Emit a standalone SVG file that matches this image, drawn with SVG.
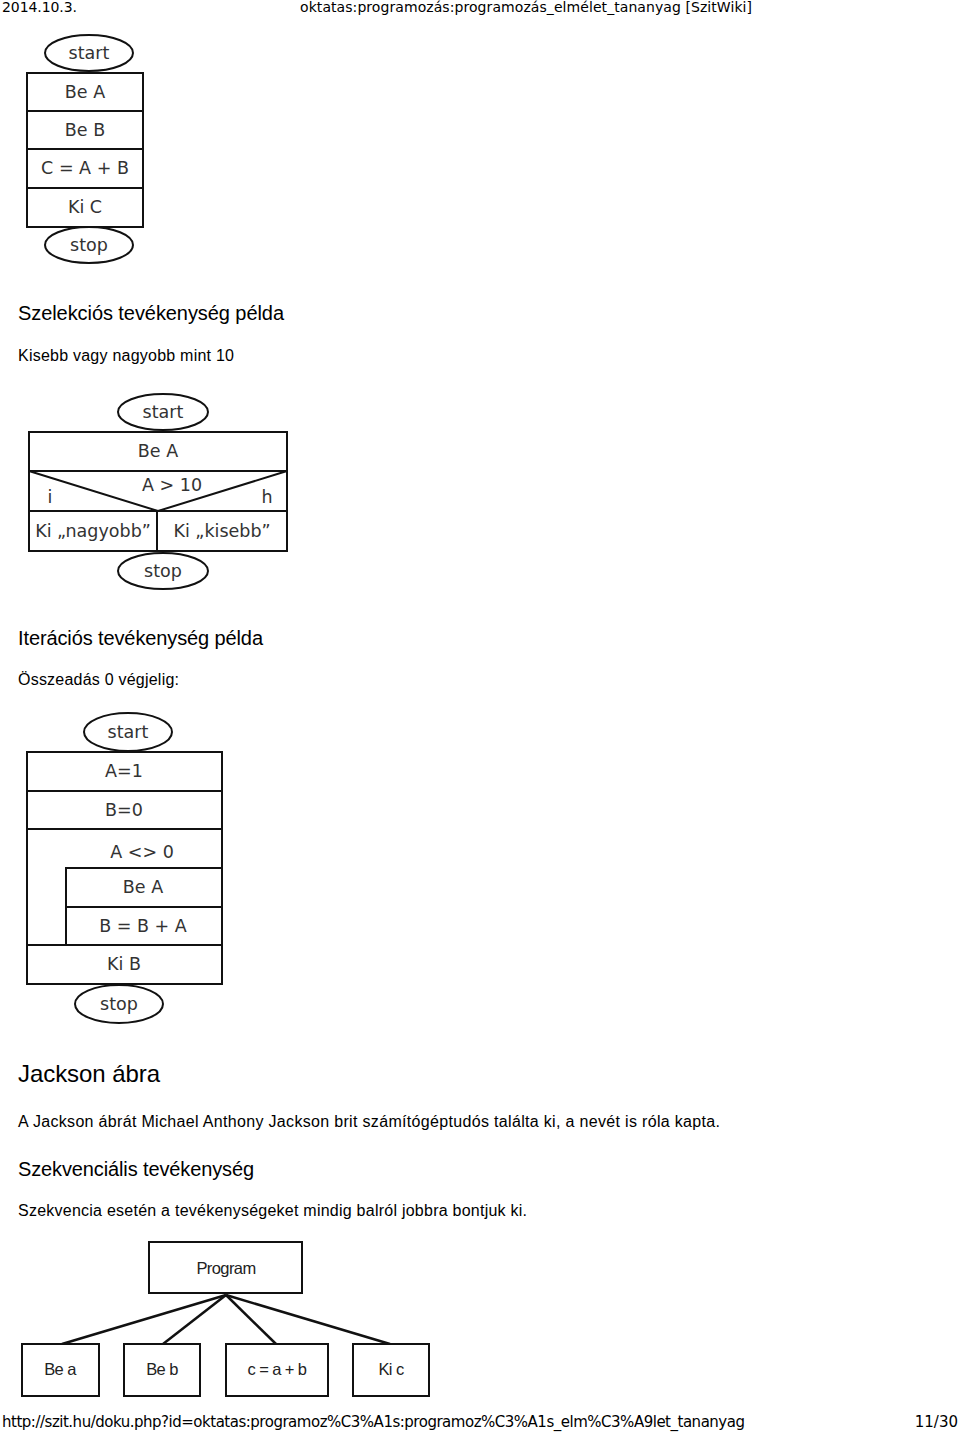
<svg xmlns="http://www.w3.org/2000/svg" width="960" height="1433" viewBox="0 0 960 1433">
<style>
.pg{font-family:"DejaVu Sans",sans-serif;fill:#000}
.h{font-family:"Liberation Sans",Arial,sans-serif;fill:#000}
.fc{font-family:"DejaVu Sans",sans-serif;font-size:17.5px;fill:#333;text-anchor:middle}
.jk{font-family:"Liberation Sans",Arial,sans-serif;font-size:16.5px;fill:#222;text-anchor:middle;letter-spacing:-0.6px}
.b{fill:#fff;stroke:#111;stroke-width:2}
.l{stroke:#111;stroke-width:2;fill:none}
.c{stroke:#111;stroke-width:2.5;fill:none}
</style>
<rect width="960" height="1433" fill="#fff"/>
<text class="pg" x="2" y="12" font-size="14" textLength="75">2014.10.3.</text>
<text class="pg" x="300" y="12" font-size="14" textLength="452">oktatas:programozás:programozás_elmélet_tananyag [SzitWiki]</text>

<g id="seq1">
<g id="s1-start"><ellipse class="b" cx="89" cy="53" rx="44" ry="18"/><text class="fc" x="89" y="59">start</text></g>
<g id="s1-beA"><rect class="b" x="27" y="73" width="116" height="38"/><text class="fc" x="85" y="98">Be A</text></g>
<g id="s1-beB"><rect class="b" x="27" y="111" width="116" height="38"/><text class="fc" x="85" y="136">Be B</text></g>
<g id="s1-calc"><rect class="b" x="27" y="149" width="116" height="39"/><text class="fc" x="85" y="174">C = A + B</text></g>
<g id="s1-kiC"><rect class="b" x="27" y="188" width="116" height="39"/><text class="fc" x="85" y="213">Ki C</text></g>
<g id="s1-stop"><ellipse class="b" cx="89" cy="245" rx="44" ry="18"/><text class="fc" x="89" y="251">stop</text></g>
</g>

<text class="h" x="18" y="320" font-size="20" textLength="266">Szelekciós tevékenység példa</text>
<text class="h" x="18" y="361" font-size="16" textLength="216">Kisebb vagy nagyobb mint 10</text>

<g id="sel">
<g id="s2-start"><ellipse class="b" cx="163" cy="412" rx="45" ry="18"/><text class="fc" x="163" y="418">start</text></g>
<g id="s2-beA"><rect class="b" x="29" y="432" width="258" height="39"/><text class="fc" x="158" y="457">Be A</text></g>
<g id="s2-cond"><rect class="b" x="29" y="471" width="258" height="40"/>
<polyline class="l" points="29,471 158,511 287,471"/>
<text class="fc" x="172" y="491">A &gt; 10</text>
<text class="fc" x="50" y="503">i</text>
<text class="fc" x="267" y="503">h</text></g>
<g id="s2-yes"><rect class="b" x="29" y="511" width="128" height="40"/><text class="fc" x="93" y="537">Ki „nagyobb”</text></g>
<g id="s2-no"><rect class="b" x="157" y="511" width="130" height="40"/><text class="fc" x="222" y="537">Ki „kisebb”</text></g>
<g id="s2-stop"><ellipse class="b" cx="163" cy="571" rx="45" ry="18"/><text class="fc" x="163" y="577">stop</text></g>
</g>

<text class="h" x="18" y="645" font-size="20" textLength="245">Iterációs tevékenység példa</text>
<text class="h" x="18" y="685" font-size="16" textLength="161">Összeadás 0 végjelig:</text>

<g id="iter">
<g id="s3-start"><ellipse class="b" cx="128" cy="732" rx="44" ry="19"/><text class="fc" x="128" y="738">start</text></g>
<g id="s3-a1"><rect class="b" x="27" y="752" width="195" height="39"/><text class="fc" x="124" y="777">A=1</text></g>
<g id="s3-b0"><rect class="b" x="27" y="791" width="195" height="38"/><text class="fc" x="124" y="816">B=0</text></g>
<g id="s3-loop"><rect class="b" x="27" y="829" width="195" height="116"/><text class="fc" x="142" y="858">A &lt;&gt; 0</text></g>
<g id="s3-beA"><rect class="b" x="66" y="868" width="156" height="39"/><text class="fc" x="143" y="893">Be A</text></g>
<g id="s3-sum"><rect class="b" x="66" y="907" width="156" height="38"/><text class="fc" x="143" y="932">B = B + A</text></g>
<g id="s3-kiB"><rect class="b" x="27" y="945" width="195" height="39"/><text class="fc" x="124" y="970">Ki B</text></g>
<g id="s3-stop"><ellipse class="b" cx="119" cy="1004" rx="44" ry="19"/><text class="fc" x="119" y="1010">stop</text></g>
</g>

<text class="h" x="18" y="1082" font-size="24" textLength="142">Jackson ábra</text>
<text class="h" x="18" y="1127" font-size="16" textLength="702">A Jackson ábrát Michael Anthony Jackson brit számítógéptudós találta ki, a nevét is róla kapta.</text>
<text class="h" x="18" y="1176" font-size="20" textLength="236">Szekvenciális tevékenység</text>
<text class="h" x="18" y="1216" font-size="16" textLength="509">Szekvencia esetén a tevékenységeket mindig balról jobbra bontjuk ki.</text>

<g id="jackson">
<g id="connectors">
<line class="c" x1="226" y1="1295" x2="62" y2="1344"/>
<line class="c" x1="226" y1="1295" x2="163" y2="1344"/>
<line class="c" x1="226" y1="1295" x2="276" y2="1344"/>
<line class="c" x1="226" y1="1295" x2="390" y2="1344"/>
</g>
<g id="j-program"><rect class="b" x="149" y="1242" width="153" height="51"/><text class="jk" x="226" y="1274">Program</text></g>
<g id="j-bea"><rect class="b" x="22" y="1344" width="77" height="52"/><text class="jk" x="60" y="1375">Be a</text></g>
<g id="j-beb"><rect class="b" x="124" y="1344" width="76" height="52"/><text class="jk" x="162" y="1375">Be b</text></g>
<g id="j-calc"><rect class="b" x="226" y="1344" width="102" height="52"/><text class="jk" x="277" y="1375">c = a + b</text></g>
<g id="j-kic"><rect class="b" x="353" y="1344" width="76" height="52"/><text class="jk" x="391" y="1375">Ki c</text></g>
</g>

<text class="pg" x="2" y="1427" font-size="15" textLength="743">http://szit.hu/doku.php?id=oktatas:programoz%C3%A1s:programoz%C3%A1s_elm%C3%A9let_tananyag</text>
<text class="pg" x="958" y="1427" font-size="15" text-anchor="end">11/30</text>
</svg>
